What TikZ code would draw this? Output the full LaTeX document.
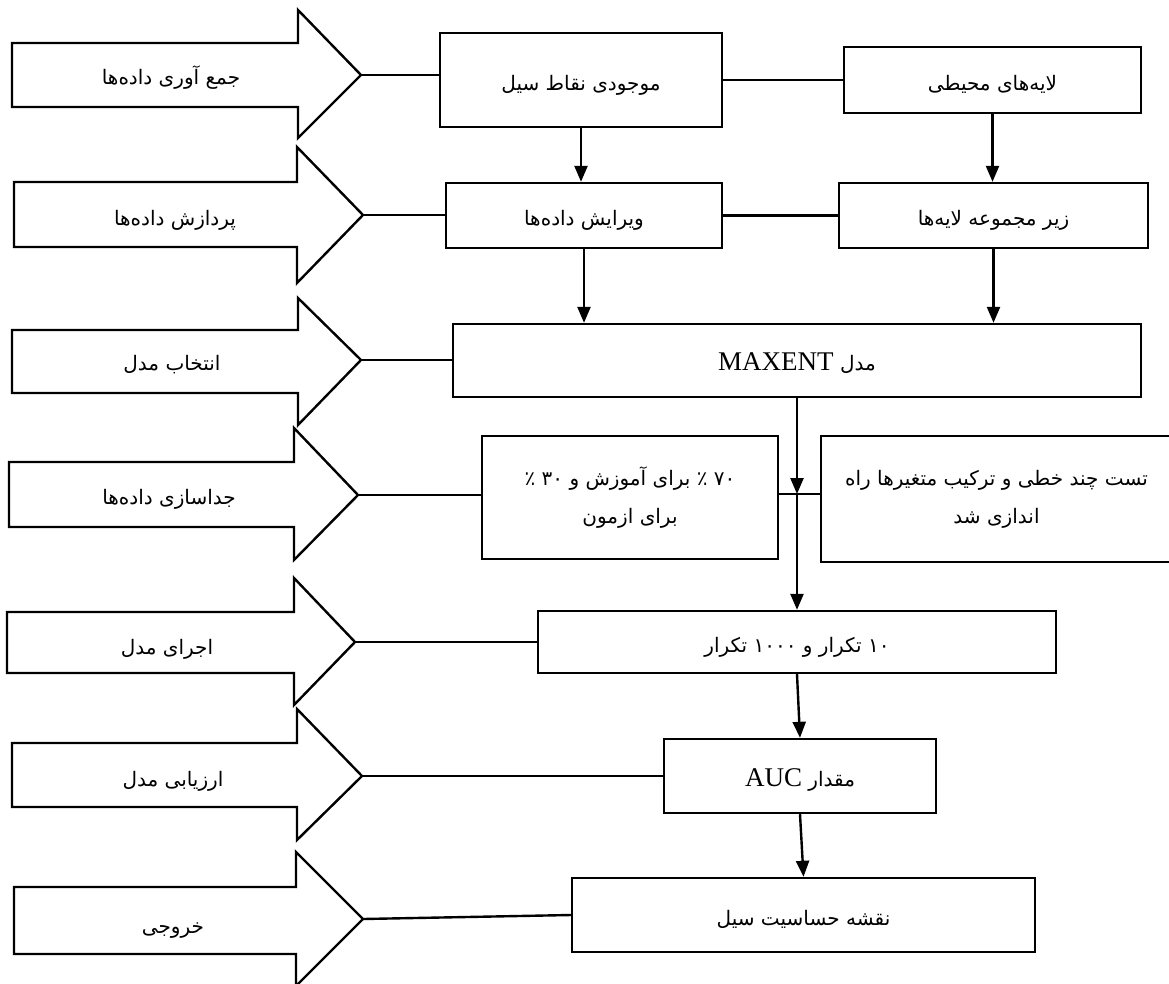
\documentclass[tikz,border=0pt]{standalone}
\usepackage{fontspec}
\usetikzlibrary{arrows.meta}
\newfontfamily\fa[Script=Arabic]{DejaVu Sans}
\newfontfamily\lat{Liberation Serif}
\TeXXeTstate=1
\newcommand\R[1]{\beginR#1\endR}
\newcommand\bigarrow[9]{%
  \draw[bigarr] (#2,#6) -- (#3,#6) -- (#3,#8) -- (#4,#5) -- (#3,#9) -- (#3,#7) -- (#2,#7) -- cycle;
  \coordinate (#1) at (#4,#5);}
\begin{document}
\begin{tikzpicture}[x=1pt,y=-1pt,
  bigarr/.style={draw,line width=2.4pt,line join=miter},
  box/.style={draw,line width=2.4pt,inner sep=0pt,align=center,font=\fa\fontsize{20}{38}\selectfont},
  onebox/.style={box,text height=20pt,text depth=0pt},
  lbl/.style={inner sep=0pt,text height=18pt,text depth=0pt,font=\fa\fontsize{20}{24}\selectfont},
  conn/.style={line width=2.4pt},
  arr/.style={line width=2.4pt,-{Triangle[length=16pt,width=13pt]}}]
\useasboundingbox (0,0) rectangle (1169,983);
\clip (0,0) rectangle (1169,983);
\fill[white] (0,0) rectangle (1169,983);

% big arrows: name, L, H, T, ty, bodytop, bodybottom, headtop, headbottom
\bigarrow{t1}{12}{298}{361}{75}{43}{107}{10}{138}
\bigarrow{t2}{14}{297}{363}{215}{182}{247}{147}{283}
\bigarrow{t3}{12}{298}{361}{360}{330}{393}{298}{425}
\bigarrow{t4}{9}{294}{358}{495}{462}{527}{428}{560}
\bigarrow{t5}{7}{294}{355}{642}{612}{673}{578}{705}
\bigarrow{t6}{12}{297}{362}{776}{743}{807}{709}{840}
\bigarrow{t7}{14}{296}{363}{919}{887}{954}{852}{986}

\node[lbl] (l1) at (171,75) {\R{جمع آوری داده‌ها}};
\node[lbl] (l2) at (175,216) {\R{پردازش داده‌ها}};
\node[lbl] (l3) at (172,361) {\R{انتخاب مدل}};
\node[lbl] (l4) at (169,495) {\R{جداسازی داده‌ها}};
\node[lbl] (l5) at (167,645) {\R{اجرای مدل}};
\node[lbl] (l6) at (173,777) {\R{ارزیابی مدل}};
\node[lbl] (l7) at (173,924) {\R{خروجی}};

% boxes
\node[onebox,minimum width=282pt,minimum height=94pt] (A) at (581,80) {\R{موجودی نقاط سیل}};
\node[onebox,minimum width=297pt,minimum height=66pt] (B) at (992.5,80) {\R{لایه‌های محیطی}};
\node[onebox,minimum width=276pt,minimum height=65pt] (C) at (584,215.5) {\R{ویرایش داده‌ها}};
\node[onebox,minimum width=309pt,minimum height=65pt] (D) at (993.5,215.5) {\R{زیر مجموعه لایه‌ها}};
\node[onebox,minimum width=688pt,minimum height=73pt] (E) at (797,360.5) {\R{مدل {\lat\fontsize{27}{28}\selectfont\beginL MAXENT\endL}}};
\node[box,minimum width=296pt,minimum height=123pt] (G) at (630,497.5) {\R{۷۰ ٪ برای آموزش و ۳۰ ٪}\\\R{برای ازمون}};
\node[box,minimum width=351pt,minimum height=126pt] (H) at (996.5,499) {\R{تست چند خطی و ترکیب متغیرها راه}\\\R{اندازی شد}};
\node[onebox,minimum width=518pt,minimum height=62pt] (F) at (797,642) {\R{۱۰ تکرار و ۱۰۰۰ تکرار}};
\node[onebox,minimum width=272pt,minimum height=74pt] (I) at (800,776) {\R{مقدار {\lat\fontsize{27}{28}\selectfont\beginL AUC\endL}}};
\node[onebox,minimum width=463pt,minimum height=74pt] (J) at (803.5,915) {\R{نقشه حساسیت سیل}};

% connectors from big arrows
\draw[conn] (t1) -- (t1 -| A.west);
\draw[conn] (t2) -- (t2 -| C.west);
\draw[conn] (t3) -- (t3 -| E.west);
\draw[conn] (t4) -- (t4 -| G.west);
\draw[conn] (t5) -- (t5 -| F.west);
\draw[conn] (t6) -- (t6 -| I.west);
\draw[conn] (t7) -- (J.west);

% horizontal links
\draw[conn] (A.east) -- (B.west);
\draw[conn] (C.east) -- (D.west);
\coordinate (j) at (797,494);
\draw[conn] (j -| G.east) -- (j -| H.west);

% vertical arrows
\draw[arr] (A.south) -- (A.south |- C.north);
\draw[arr] (B.south) -- (B.south |- D.north);
\draw[arr] (C.south) -- (C.south |- E.north);
\draw[arr] (D.south) -- (D.south |- E.north);
\draw[arr] (E.south) -- (j);
\draw[arr] (j) -- (j |- F.north);
\draw[arr] (F.south) -- (I.north);
\draw[arr] (I.south) -- (J.north);
\end{tikzpicture}
\end{document}
